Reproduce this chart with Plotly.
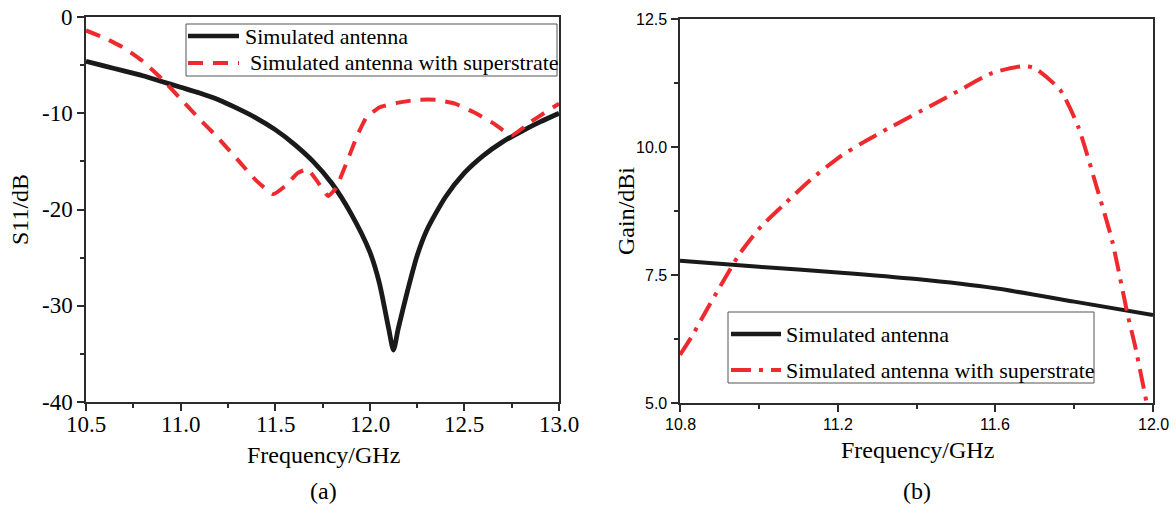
import plotly.graph_objects as go

W, H = 1176, 506

# ---- (a) reflection coefficient S11 ----
freq_a_ref = [10.5, 10.6, 10.7, 10.8, 10.9, 11.0, 11.1, 11.2, 11.3, 11.4, 11.5, 11.6,
              11.7, 11.8, 11.9, 12.0, 12.05, 12.1, 12.125, 12.15, 12.2, 12.25, 12.3,
              12.4, 12.5, 12.6, 12.7, 12.8, 12.9, 13.0]
s11_ref = [-4.6, -5.1, -5.6, -6.1, -6.7, -7.3, -7.9, -8.6, -9.5, -10.5, -11.7, -13.2,
           -15.0, -17.3, -20.4, -24.4, -27.6, -32.4, -34.6, -32.4, -28.4, -24.8, -22.2,
           -18.7, -16.2, -14.4, -13.0, -11.9, -10.9, -10.0]

freq_a_sup = [10.5, 10.6, 10.7, 10.8, 10.9, 11.0, 11.1, 11.2, 11.3, 11.4, 11.49, 11.55,
              11.62, 11.67, 11.72, 11.78, 11.82, 11.88, 11.93, 11.98, 12.05, 12.15,
              12.25, 12.35, 12.45, 12.55, 12.65, 12.75, 12.85, 12.92, 13.0]
s11_sup = [-1.4, -2.2, -3.2, -4.6, -6.4, -8.5, -10.6, -12.6, -14.8, -17.0, -18.4, -17.6,
           -16.2, -15.8, -17.0, -18.6, -17.8, -15.0, -12.5, -10.5, -9.4, -8.9,
           -8.6, -8.6, -9.0, -9.9, -11.0, -12.3, -10.9, -10.0, -9.0]

# ---- (b) realised gain ----
freq_b_ref = [10.8, 11.0, 11.2, 11.4, 11.6, 11.8, 12.0]
gain_ref = [7.78, 7.66, 7.55, 7.42, 7.24, 6.98, 6.72]

freq_b_sup = [10.8, 10.83, 10.87, 10.9, 10.95, 11.0, 11.06, 11.13, 11.2, 11.26, 11.33,
              11.44, 11.51, 11.59, 11.67, 11.70, 11.765, 11.81, 11.857, 11.896,
              11.935, 11.955, 11.984]
gain_sup = [5.94, 6.3, 6.85, 7.25, 7.9, 8.4, 8.85, 9.35, 9.78, 10.07, 10.37,
            10.82, 11.11, 11.44, 11.58, 11.54, 11.11, 10.40, 9.22, 8.18,
            6.75, 6.10, 5.0]

# tick labels
xa_ticks = [10.5, 11.0, 11.5, 12.0, 12.5, 13.0]
xa_text = ["10.5", "11.0", "11.5", "12.0", "12.5", "13.0"]
ya_ticks = [0, -10, -20, -30, -40]
ya_text = ["0", "-10", "-20", "-30", "-40"]
xb_ticks = [10.8, 11.2, 11.6, 12.0]
xb_text = ["10.8", "11.2", "11.6", "12.0"]
yb_ticks = [5.0, 7.5, 10.0, 12.5]
yb_text = ["5.0", "7.5", "10.0", "12.5"]

names = ["Simulated antenna", "Simulated antenna with superstrate"]

SERIF = "Liberation Serif"
SANS = "Liberation Sans"
BLACK = "#1a1a1a"
RED = "#ee2a2f"
AX = "#2b2b2b"


def px(x):
    return x / W


def py(y):
    return 1 - y / H


fig = go.Figure()

fig.add_trace(go.Scatter(x=freq_a_ref, y=s11_ref, mode="lines", name=names[0],
                         line=dict(color=BLACK, width=4.8, shape="spline", smoothing=0.7),
                         xaxis="x", yaxis="y", showlegend=False))
fig.add_trace(go.Scatter(x=freq_a_sup, y=s11_sup, mode="lines", name=names[1],
                         line=dict(color=RED, width=4, dash="15px,10px",
                                   shape="spline", smoothing=0.4),
                         xaxis="x", yaxis="y", showlegend=False))
fig.add_trace(go.Scatter(x=freq_b_ref, y=gain_ref, mode="lines", name=names[0],
                         line=dict(color=BLACK, width=4, shape="spline", smoothing=0.6),
                         xaxis="x2", yaxis="y2", showlegend=False))
fig.add_trace(go.Scatter(x=freq_b_sup, y=gain_sup, mode="lines", name=names[1],
                         line=dict(color=RED, width=4, dash="20px,8px,4px,8px",
                                   shape="spline", smoothing=0.6),
                         xaxis="x2", yaxis="y2", showlegend=False))

common = dict(showgrid=False, zeroline=False, showline=True, linecolor=AX,
              linewidth=1.5, mirror=True, ticks="outside", tickcolor=AX,
              tickwidth=1.5, ticklen=7, automargin=False, showticklabels=False)

fig.update_layout(
    width=W, height=H,
    autosize=False,
    margin=dict(l=0, r=0, t=0, b=0, pad=0),
    paper_bgcolor="white", plot_bgcolor="white",
    font=dict(family=SERIF, color="black"),
    showlegend=False,
    xaxis=dict(domain=[px(86), px(559)], range=[10.5, 13.0], anchor="y",
               tickvals=xa_ticks,
               minor=dict(dtick=0.25, tick0=10.5, ticks="outside", ticklen=4,
                          tickcolor=AX, tickwidth=1.5),
               **common),
    yaxis=dict(domain=[py(402), py(17)], range=[-40, 0], anchor="x",
               tickvals=ya_ticks,
               minor=dict(dtick=5, tick0=0, ticks="outside", ticklen=4,
                          tickcolor=AX, tickwidth=1.5),
               **common),
    xaxis2=dict(domain=[px(680), px(1153)], range=[10.8, 12.0], anchor="y2",
                tickvals=xb_ticks,
                minor=dict(dtick=0.2, tick0=10.8, ticks="outside", ticklen=4,
                           tickcolor=AX, tickwidth=1.5),
                **common),
    yaxis2=dict(domain=[py(403), py(19)], range=[5.0, 12.5], anchor="x2",
                tickvals=yb_ticks,
                minor=dict(dtick=1.25, tick0=5.0, ticks="outside", ticklen=4,
                           tickcolor=AX, tickwidth=1.5),
                **common),
)

shapes = []
annotations = []


def text(x, y, s, size=24, anchor="center", angle=0, family=SERIF,
         xref="paper", yref="paper"):
    annotations.append(dict(x=px(x) if xref == "paper" else x,
                            y=py(y) if yref == "paper" else y,
                            xref=xref, yref=yref, text=s,
                            showarrow=False, xanchor=anchor, yanchor="middle",
                            textangle=angle, borderpad=0,
                            font=dict(family=family, size=size, color="black")))


# tick labels placed on each axis through its own scale
for v, s in zip(xa_ticks, xa_text):
    text(v, 424, s, size=23, xref="x")
for v, s in zip(ya_ticks, ya_text):
    text(74, v, s, size=23, anchor="right", yref="y")
for v, s in zip(xb_ticks, xb_text):
    text(v, 424, s, size=16, family=SANS, xref="x2")
for v, s in zip(yb_ticks, yb_text):
    text(668, v, s, size=16, family=SANS, anchor="right", yref="y2")

# axis titles and panel captions
text(323, 455, "Frequency/GHz")
text(20, 210, "S11/dB", angle=-90)
text(323, 491, "(a)")
text(917, 450, "Frequency/GHz")
text(626, 211, "Gain/dBi", angle=-90)
text(917, 491, "(b)")


def legend_box(x0, y0, x1, y1, rows, dashes, sample_x, text_x):
    shapes.append(dict(type="rect", xref="paper", yref="paper",
                       x0=px(x0), x1=px(x1), y0=py(y1), y1=py(y0),
                       line=dict(color="#555555", width=1), fillcolor="white",
                       layer="above"))
    for (ry, nm, col, dash, tx) in zip(rows, names, [BLACK, RED], dashes, text_x):
        shapes.append(dict(type="line", xref="paper", yref="paper",
                           x0=px(sample_x[0]), x1=px(sample_x[1]), y0=py(ry), y1=py(ry),
                           line=dict(color=col, width=4.5 if col == BLACK else 4,
                                     dash=dash), layer="above"))
        text(tx, ry, nm, size=22, anchor="left")


legend_box(186, 24, 557, 76, [36, 63], ["solid", "15px,10px"], (188, 239), (244, 249))
legend_box(728, 312, 1094, 383, [334, 370], ["solid", "20px,8px,4px,8px"], (731, 781),
           (785, 785))

fig.update_layout(shapes=shapes, annotations=annotations)

fig.write_html("out.html", config=dict(responsive=False))
